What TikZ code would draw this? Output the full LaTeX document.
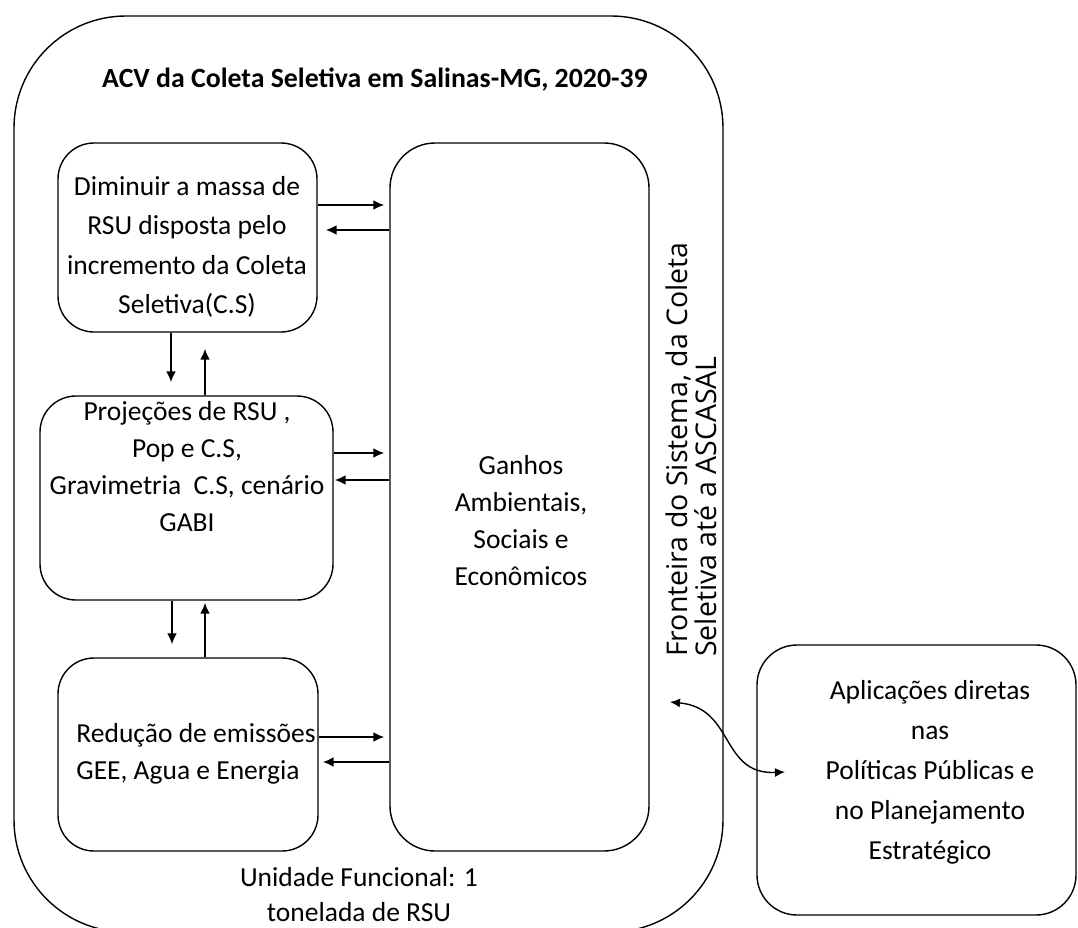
\documentclass[tikz,border=0pt]{standalone}
\usepackage{fontspec}
\setmainfont{Carlito}
\newfontfamily\bordfont{Open Sans}
\usetikzlibrary{positioning}
\usetikzlibrary{arrows.meta}

\begin{document}
\begin{tikzpicture}[x=1pt,y=-1pt,
	box/.style={draw, line width=1.4pt, rounded corners=#1, inner sep=0pt},
	box/.default=36pt,
	txt/.style={align=center, inner sep=0pt, font=\fontsize{27.5}{38}\selectfont},
	arr/.style={-{Latex[length=11pt,width=10pt]}, line width=2pt}]
			\useasboundingbox (0,0) rectangle (1078,928);
			\node at (368.5,474) (sys) [box=112pt, minimum width=709pt, minimum height=916pt] {};
			\node at (375,80) (title) [txt, font=\fontsize{27.8}{38}\selectfont\bfseries] {ACV da Coleta Seletiva em Salinas-MG, 2020-39};
			\node at (187.5,237.5) (dim) [box, minimum width=259pt, minimum height=189pt] {};
			\node at (187,247) (dimtxt) [txt, font=\fontsize{27.5}{39.5}\selectfont] {Diminuir a massa de\\RSU disposta pelo\\incremento da Coleta\\Seletiva(C.S)};
			\node at (186.5,498) (proj) [box, minimum width=293pt, minimum height=204pt] {};
			\node at (187,467) (projtxt) [txt, font=\fontsize{27.5}{37}\selectfont] {Projeções de RSU ,\\Pop e C.S,\\Gravimetria\ \ C.S, cenário\\GABI};
			\node at (188,754.5) (red) [box, minimum width=260pt, minimum height=193pt] {};
			\node at (196,754) (redtxt) [txt, align=left, font=\fontsize{27.5}{37}\selectfont] {Redução de emissões\\GEE, Agua e Energia};
			\node at (519.5,497) (gain) [box=45pt, minimum width=259pt, minimum height=708pt] {};
			\node at (521,521) (gaintxt) [txt, font=\fontsize{27.5}{37}\selectfont] {Ganhos\\Ambientais,\\Sociais e\\Econômicos};
			\node at (691,657) (bound) [rotate=90, anchor=west, align=left, inner sep=0pt, font=\bordfont\fontsize{28.5}{29}\selectfont] {Fronteira do Sistema, da Coleta\\Seletiva até a ASCASAL};
			\node at (916.5,780) (apl) [box=40pt, minimum width=319pt, minimum height=270pt] {};
			\node at (930,772) (apltxt) [txt, font=\fontsize{27.5}{40}\selectfont] {Aplicações diretas\\nas\\Políticas Públicas e\\no Planejamento\\Estratégico};
			\node at (359,895) (fu) [txt, font=\fontsize{27.5}{35}\selectfont] {Unidade Funcional: 1\\tonelada de RSU};
			% trocas com os ganhos
			\draw[arr, shorten >=5pt] (dim.east |- 0,205) -- (gain.west |- 0,205);
			\draw[arr, shorten >=8pt] (gain.west |- 0,230) -- (dim.east |- 0,230);
			\draw[arr, shorten >=5pt] (proj.east |- 0,453) -- (gain.west |- 0,453);
			\draw[arr, shorten >=1pt] (gain.west |- 0,480) -- (proj.east |- 0,480);
			\draw[arr, shorten >=5pt] (red.east |- 0,737) -- (gain.west |- 0,737);
			\draw[arr, shorten >=4pt] (gain.west |- 0,762) -- (red.east |- 0,762);
			\draw[arr, shorten >=13pt] (dim.south -| 171,0) -- (proj.north -| 171,0);
			\draw[arr, shorten >=16pt] (proj.north -| 205,0) -- (dim.south -| 205,0);
			\draw[arr, shorten >=13pt] (proj.south -| 172,0) -- (red.north -| 172,0);
			\draw[arr, shorten >=2pt] (red.north -| 205,0) -- (proj.south -| 205,0);
			\coordinate (bdry) at (670,702);
			\coordinate (aplin) at (785,772);
			\draw[{Latex[length=10pt,width=9pt]}-{Latex[length=10pt,width=9pt]}, line width=1.4pt] (bdry) .. controls (735,708) and (720,775) .. (aplin);
\end{tikzpicture}
\end{document}
